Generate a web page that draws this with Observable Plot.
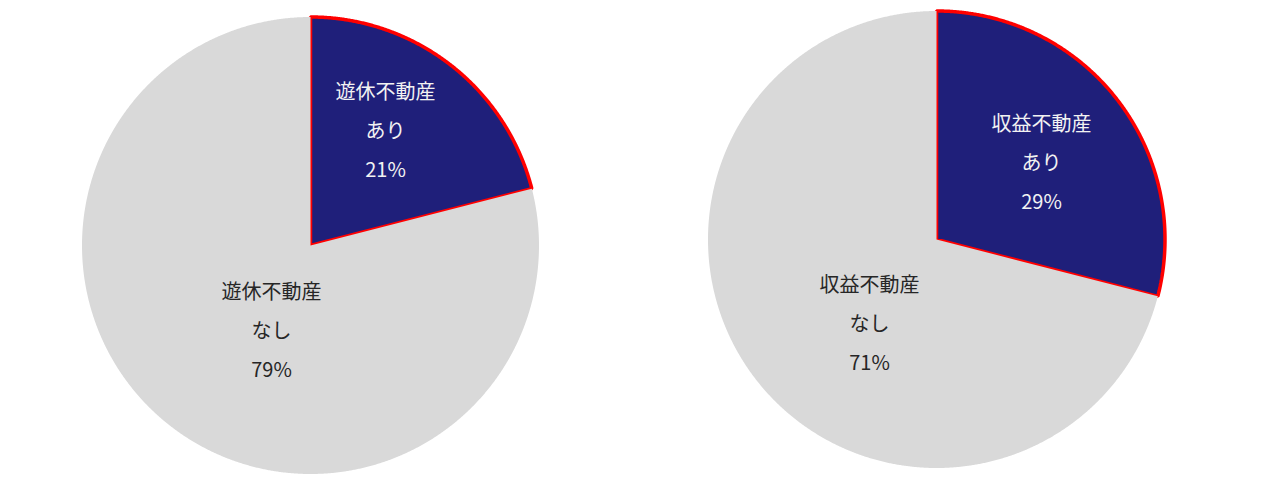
<!DOCTYPE html>
<html><head><meta charset="utf-8">
<script src="https://cdn.jsdelivr.net/npm/d3@7"></script>
<script src="https://cdn.jsdelivr.net/npm/@observablehq/plot@0.6"></script>
<style>html,body{margin:0;padding:0;background:#fff;overflow:hidden}</style>
</head><body><div id="chart"></div>
<script>
// ---- data ----
const pieNames = ["遊休不動産", "収益不動産"];
const categories = ["あり", "なし"];
const valuesAri = [21, 29];
const valuesNashi = [79, 71];

// ---- layout ----
const W = 1263, H = 478;
const centers = [[310, 245], [936, 239]];
const radius = 228.5;
const labelOffsets = [[[75, -120], [-39, 80]], [[105, -82], [-67, 79]]];
const sliceColors = ["#1F1F7A", "#D9D9D9"];
const textColors = ["#F2F2F2", "#262626"];

const slicePts = [];   // polygon points
const labels = [];
pieNames.forEach((name, p) => {
  const vals = [valuesAri[p], valuesNashi[p]];
  const total = d3.sum(vals);
  let start = 0;
  vals.forEach((v, k) => {
    const a0 = start / total * 2 * Math.PI;
    const a1 = (start + v) / total * 2 * Math.PI;
    start += v;
    const [cx, cy] = centers[p];
    const id = `${p}-${k}`;
    const pts = [{id, p, k, x: cx, y: cy}];
    const n = Math.ceil((a1 - a0) / (Math.PI / 720));
    for (let i = 0; i <= n; i++) {
      const a = a0 + (a1 - a0) * i / n;
      pts.push({id, p, k, x: cx + radius * Math.sin(a), y: cy - radius * Math.cos(a)});
    }
    pts.push({id, p, k, x: cx, y: cy});
    slicePts.push(...pts);
    labels.push({
      p, k,
      x: cx + labelOffsets[p][k][0],
      y: cy + labelOffsets[p][k][1],
      text: `${name}\n${categories[k]}\n${v}%`
    });
  });
});

const dark = slicePts.filter(d => d.k === 0);
const grey = slicePts.filter(d => d.k === 1);
const font = "'Noto Sans CJK JP', sans-serif";

const chart = Plot.plot({
  width: W, height: H,
  margin: 0,
  x: {domain: [0, W], range: [0, W], axis: null},
  y: {domain: [0, H], range: [0, H], axis: null},
  style: {background: "#fff"},
  marks: [
    Plot.line(dark, {x: "x", y: "y", z: "id", fill: sliceColors[0], stroke: "#FF0000", strokeWidth: 3.5, strokeLinejoin: "miter", curve: "linear"}),
    Plot.line(grey, {x: "x", y: "y", z: "id", fill: sliceColors[1], stroke: "none", curve: "linear"}),
    Plot.text(labels.filter(d => d.k === 0), {x: "x", y: "y", text: "text", fill: textColors[0], fontSize: 20, lineHeight: 1.95, fontFamily: font}),
    Plot.text(labels.filter(d => d.k === 1), {x: "x", y: "y", text: "text", fill: textColors[1], fontSize: 20, lineHeight: 1.95, fontFamily: font})
  ]
});
document.getElementById("chart").appendChild(chart);
</script>
</body></html>
